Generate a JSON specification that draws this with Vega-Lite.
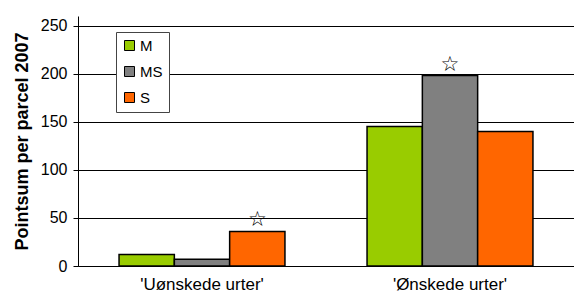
{
  "$schema": "https://vega.github.io/schema/vega-lite/v6.json",
  "width": 496,
  "height": 250,
  "autosize": {"type": "none"},
  "padding": {"left": 78, "top": 16, "right": 0, "bottom": 34},
  "config": {
    "view": {"stroke": null},
    "font": "Liberation Sans",
    "axis": {"labelColor": "black", "titleColor": "black", "domainColor": "black", "tickColor": "black", "labelFont": "Liberation Sans", "titleFont": "Liberation Sans"}
  },
  "data": {
    "values": [
      {"cat": "'Uønskede urter'", "grp": "M", "v": 12, "mark": ""},
      {"cat": "'Uønskede urter'", "grp": "MS", "v": 7, "mark": ""},
      {"cat": "'Uønskede urter'", "grp": "S", "v": 36, "mark": "☆"},
      {"cat": "'Ønskede urter'", "grp": "M", "v": 145, "mark": ""},
      {"cat": "'Ønskede urter'", "grp": "MS", "v": 198, "mark": "☆"},
      {"cat": "'Ønskede urter'", "grp": "S", "v": 140, "mark": ""}
    ]
  },
  "layer": [
    {
      "mark": {"type": "bar", "stroke": "black", "strokeWidth": 1.5},
      "encoding": {
        "x": {
          "field": "cat", "type": "nominal", "sort": null,
          "scale": {"paddingInner": 0.331, "paddingOuter": 0.1655},
          "axis": {"title": null, "labelAngle": 0, "labelFontSize": 17, "tickSize": 5, "labelPadding": 10, "grid": false, "ticks": false}
        },
        "xOffset": {"field": "grp", "type": "nominal", "scale": {"paddingInner": 0, "paddingOuter": 0}},
        "y": {
          "field": "v", "type": "quantitative",
          "scale": {"domain": [0, 250]},
          "axis": {"title": "Pointsum per parcel 2007", "values": [0, 50, 100, 150, 200, 250], "grid": true, "gridColor": "black", "gridOpacity": 1, "labelFontSize": 16, "titleFontSize": 18, "titleFontWeight": "bold", "titlePadding": 9, "tickSize": 5, "labelPadding": 6}
        },
        "color": {
          "field": "grp", "type": "nominal",
          "scale": {"domain": ["M", "MS", "S"], "range": ["#99CC00", "#808080", "#FF6600"]},
          "legend": {"orient": "none", "legendX": 38, "legendY": 16, "title": null, "strokeColor": "#444", "fillColor": "white", "padding": 6, "symbolType": "square", "symbolSize": 100, "symbolStrokeColor": "black", "symbolStrokeWidth": 1, "labelFontSize": 15, "labelColor": "black", "rowPadding": 10, "labelOffset": 3}
        }
      }
    },
    {
      "mark": {"type": "text", "font": "DejaVu Sans", "fontSize": 21, "baseline": "bottom", "dy": -1, "color": "black"},
      "encoding": {
        "x": {"field": "cat", "type": "nominal", "sort": null},
        "xOffset": {"field": "grp", "type": "nominal"},
        "y": {"field": "v", "type": "quantitative"},
        "text": {"field": "mark", "type": "nominal"}
      }
    }
  ]
}
